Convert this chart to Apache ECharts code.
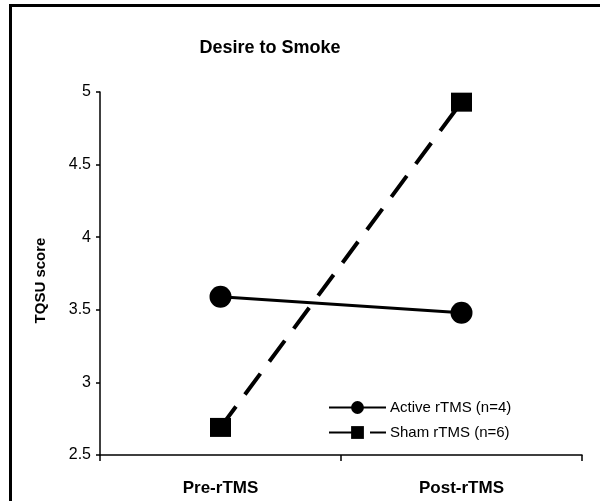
<!DOCTYPE html>
<html>
<head>
<meta charset="utf-8">
<script src="https://cdn.jsdelivr.net/npm/echarts@6/dist/echarts.min.js"></script>
<style>html,body{margin:0;padding:0;background:#fff}#c{width:600px;height:501px}</style>
</head>
<body>
<div id="c"></div>
<script>
const categories = ['Pre-rTMS', 'Post-rTMS'];
const activeValues = [3.59, 3.48];
const shamValues = [2.69, 4.93];
const yTicks = [2.5, 3, 3.5, 4, 4.5, 5];
const FONT = 'Liberation Sans, Arial, sans-serif';

const chart = echarts.init(document.getElementById('c'), null, {renderer: 'canvas'});
chart.setOption({
  animation: false,
  backgroundColor: '#fff',
  grid: {left: 100, right: 18, top: 92, bottom: 46, containLabel: false},
  graphic: [
    {type: 'line', shape: {x1: 9, y1: 5.5, x2: 600, y2: 5.5}, style: {stroke: '#000', lineWidth: 3}},
    {type: 'line', shape: {x1: 10.5, y1: 4, x2: 10.5, y2: 501}, style: {stroke: '#000', lineWidth: 3}},
    {type: 'text', x: 270, y: 48, style: {text: 'Desire to Smoke', font: 'bold 18px ' + FONT, fill: '#000', align: 'center', verticalAlign: 'middle'}}
  ],
  xAxis: {
    type: 'category',
    data: categories,
    boundaryGap: true,
    axisLine: {lineStyle: {color: '#000', width: 1.5}},
    axisTick: {show: true, inside: false, length: 6, alignWithLabel: false, lineStyle: {color: '#000', width: 1.5}},
    axisLabel: {color: '#000', fontFamily: FONT, fontWeight: 'bold', fontSize: 17, margin: 25}
  },
  yAxis: {
    type: 'value',
    min: yTicks[0],
    max: yTicks[yTicks.length - 1],
    interval: 0.5,
    name: 'TQSU score',
    nameLocation: 'middle',
    nameGap: 52,
    nameTextStyle: {color: '#000', fontFamily: FONT, fontWeight: 'bold', fontSize: 15, padding: [0, 0, 0, -14]},
    splitLine: {show: false},
    axisLine: {show: true, lineStyle: {color: '#000', width: 1.5}},
    axisTick: {show: true, inside: false, length: 4, lineStyle: {color: '#000', width: 1.5}},
    axisLabel: {color: '#000', fontFamily: FONT, fontSize: 16, margin: 9,
      formatter: v => String(v)}
  },
  legend: {
    orient: 'vertical',
    left: 328,
    top: 400,
    padding: 0,
    itemWidth: 57,
    itemHeight: 16,
    itemGap: 10,
    textStyle: {color: '#000', fontFamily: FONT, fontSize: 15, padding: [0, 0, 0, -1]},
    data: ['Active rTMS (n=4)', 'Sham rTMS (n=6)']
  },
  series: [
    {
      name: 'Active rTMS (n=4)',
      type: 'line',
      data: activeValues,
      symbol: 'circle',
      symbolSize: 22,
      lineStyle: {color: '#000', width: 3},
      itemStyle: {color: '#000'}
    },
    {
      name: 'Sham rTMS (n=6)',
      type: 'line',
      data: shamValues,
      symbol: 'rect',
      symbolSize: [21, 19],
      lineStyle: {color: '#000', width: 4, type: [26, 15]},
      itemStyle: {color: '#000'}
    }
  ]
});
</script>
</body>
</html>
